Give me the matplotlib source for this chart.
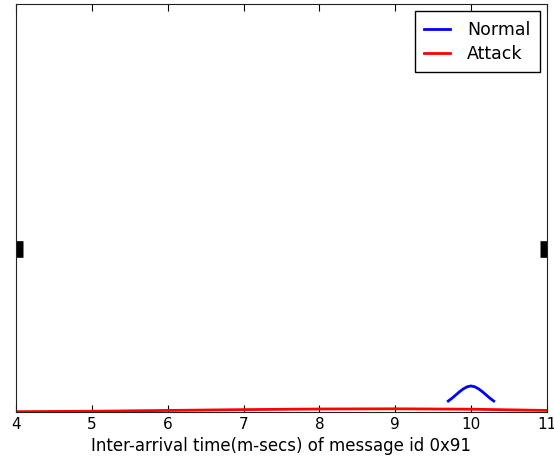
import matplotlib.pyplot as plt

# -------------------------------------------------------------------
# inter-arrival time density, message id 0x91
# -------------------------------------------------------------------
normal_x = [9.7, 9.75, 9.8, 9.85, 9.9, 9.95, 10.0, 10.05, 10.1, 10.15, 10.2, 10.25, 10.3]
normal_y = [0.027, 0.034, 0.042, 0.050, 0.057, 0.062, 0.064, 0.062, 0.057, 0.050, 0.042, 0.034, 0.027]

attack_x = [4, 5, 6, 7, 8, 9, 10, 11]
attack_y = [0.001, 0.002, 0.004, 0.006, 0.0075, 0.008, 0.007, 0.004]

xticks = [4, 5, 6, 7, 8, 9, 10, 11]

fig = plt.figure(figsize=(5.54, 4.63), dpi=100)
ax = fig.add_axes([0.029, 0.110, 0.958, 0.881])

ax.plot(normal_x, normal_y, color='blue', lw=2, label='Normal')
ax.plot(attack_x, attack_y, color='red', lw=2, label='Attack')

ax.set_xlim(4, 11)
ax.set_ylim(0, 1)
ax.set_xticks(xticks)
ax.set_yticks([0.4])
ax.set_yticklabels([''])
ax.tick_params(axis='x', direction='in', length=5, top=True, labelsize=11)
ax.tick_params(axis='y', direction='in', length=5, width=12, right=True)
for s in ax.spines.values():
    s.set_color('#222222')

ax.set_xlabel('Inter-arrival time(m-secs) of message id 0x91', fontsize=12)
leg = ax.legend(loc='upper right', fontsize=12.5, fancybox=False, framealpha=1,
                handlelength=1.45, handletextpad=1.0, labelspacing=0.35,
                borderpad=0.55, borderaxespad=0.4)
leg.get_frame().set_edgecolor('black')

plt.savefig('out.png')
